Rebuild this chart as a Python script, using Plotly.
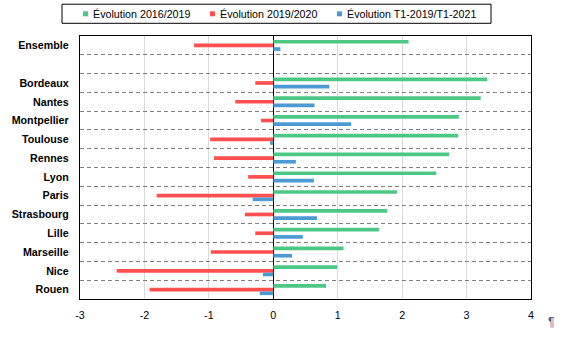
import plotly.graph_objects as go

# ---- data ----
categories = ["Ensemble", " ", "Bordeaux", "Nantes", "Montpellier", "Toulouse", "Rennes",
              "Lyon", "Paris", "Strasbourg", "Lille", "Marseille", "Nice", "Rouen"]
series_names = ["Évolution 2016/2019", "Évolution 2019/2020", "Évolution T1-2019/T1-2021"]
evol_2016_2019 = [2.10, None, 3.32, 3.22, 2.88, 2.87, 2.73, 2.53, 1.92, 1.77, 1.64, 1.09, 0.99, 0.82]
evol_2019_2020 = [-1.23, None, -0.28, -0.59, -0.19, -0.98, -0.92, -0.39, -1.81, -0.44, -0.28, -0.97, -2.43, -1.92]
evol_t1 = [0.11, None, 0.87, 0.64, 1.21, -0.05, 0.35, 0.63, -0.32, 0.68, 0.46, 0.29, -0.16, -0.21]
x_ticks = [-3, -2, -1, 0, 1, 2, 3, 4]
colors = ["#4CC784", "#FF4F4F", "#4B9AD3"]

W, H = 561, 337
ML, MR, MT, MB = 80, 30, 36, 38
PW, PH = W - ML - MR, H - MT - MB

def px(x):
    return (x - ML) / PW

def py(y):
    return (H - MB - y) / PH

FONT = "Liberation Sans, Arial, sans-serif"
FS = 10.7

fig = go.Figure()
for name, vals, col in zip(series_names, [evol_2016_2019, evol_2019_2020, evol_t1], colors):
    fig.add_trace(go.Bar(y=categories, x=vals, name=name, orientation="h",
                         marker=dict(color=col, line=dict(width=0)), showlegend=False))

# manual legend (box, squares, labels)
shapes = [dict(type="rect", xref="paper", yref="paper", x0=px(62), x1=px(491),
               y0=py(23.3), y1=py(4.2), line=dict(color="black", width=1), fillcolor="white", layer="above")]
annotations = []
marker_x = [85.5, 212.5, 339.5]
text_x = [90.5, 217.5, 344.5]
ly = 13.8
for name, col, mx, tx in zip(series_names, colors, marker_x, text_x):
    shapes.append(dict(type="rect", xref="paper", yref="paper", x0=px(mx - 2.5), x1=px(mx + 2.5),
                       y0=py(ly + 2.5), y1=py(ly - 2.5), line=dict(width=0), fillcolor=col, layer="above"))
    annotations.append(dict(text=name, xref="paper", yref="paper", x=px(tx), y=py(ly),
                            xanchor="left", yanchor="middle", showarrow=False,
                            font=dict(family=FONT, size=FS, color="black")))
annotations.append(dict(text="¶", xref="paper", yref="paper", x=px(550.5), y=py(322),
                        xanchor="center", yanchor="middle", showarrow=False,
                        font=dict(family=FONT, size=12, color="#3F5E9A")))

fig.update_layout(
    width=W, height=H, margin=dict(l=ML, r=MR, t=MT, b=MB),
    paper_bgcolor="white", plot_bgcolor="white",
    barmode="group", bargap=0.415, bargroupgap=0,
    font=dict(family=FONT, size=FS, color="black"),
    shapes=shapes, annotations=annotations,
    showlegend=False,
)
fig.update_xaxes(range=[-3, 4], tickmode="array", tickvals=x_ticks,
                 ticktext=[str(v) for v in x_ticks],
                 showgrid=True, gridcolor="#D9D9D9", gridwidth=1,
                 zeroline=True, zerolinecolor="black", zerolinewidth=1.3,
                 showline=True, linecolor="black", linewidth=1.3, mirror=True,
                 ticks="", ticklabelstandoff=6,
                 tickfont=dict(family=FONT, size=FS, color="black"))
fig.update_yaxes(type="category", categoryorder="array", categoryarray=categories,
                 autorange="reversed", tickson="boundaries",
                 showgrid=True, gridcolor="#7F7F7F", gridwidth=1, griddash="4px,3px",
                 showline=True, linecolor="black", linewidth=1.3, mirror=True,
                 ticks="", ticklabelstandoff=8,
                 tickfont=dict(family=FONT, size=FS, color="black", weight="bold"))

fig.write_html("out.html")
